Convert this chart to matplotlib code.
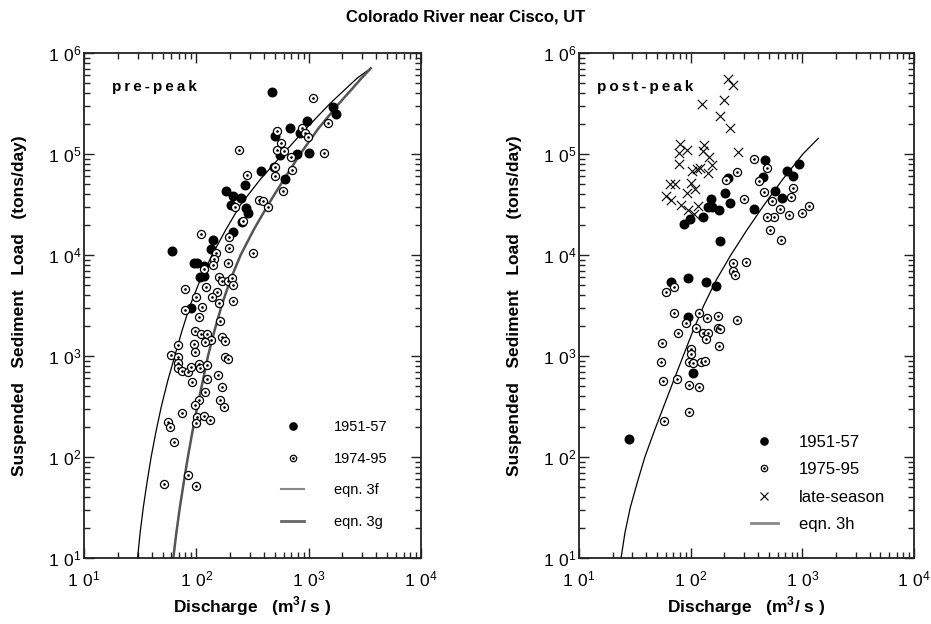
import numpy as np
import matplotlib
matplotlib.use("Agg")
import matplotlib.pyplot as plt
from matplotlib.lines import Line2D
from matplotlib.legend_handler import HandlerTuple
from matplotlib.ticker import LogLocator, FuncFormatter, NullFormatter

plt.rcParams['font.family'] = ['Liberation Sans', 'DejaVu Sans']
plt.rcParams['mathtext.fontset'] = 'custom'
plt.rcParams['mathtext.rm'] = 'Liberation Sans'
plt.rcParams['mathtext.bf'] = 'Liberation Sans:bold'

# ---- pre-peak data ----
pre_5157_q = [469, 1630, 1750, 960, 680, 500, 840, 790, 1010, 550, 380, 490, 610, 270, 183,
              211, 248, 204, 277, 291, 254, 210, 141, 61, 135, 96, 102, 118, 108, 116, 90]
pre_5157_l = [4.1e5, 2.9e5, 2.5e5, 2.1e5, 1.8e5, 1.5e5, 1.6e5, 9.9e4, 1.02e5, 9.8e4, 6.8e4, 7.5e4,
              5.7e4, 4.9e4, 4.3e4, 3.8e4, 3.7e4, 3.1e4, 2.9e4, 2.6e4, 2.1e4, 1.7e4, 1.4e4, 1.1e4,
              1.15e4, 8300, 8300, 7800, 6100, 6200, 3000]

pre_7495_q = [1087, 1500, 867, 929, 995, 520, 564, 520, 600, 692, 1371, 242, 506, 506, 711, 596,
              284, 364, 396, 435, 221, 261, 110, 194, 195, 322, 150, 145, 142, 193, 117, 158,
              168, 193, 207, 210, 122, 79, 154, 137, 158, 210, 99, 112, 106, 163, 80, 98, 110,
              124, 168, 180, 134, 120, 95, 69, 98, 60, 68, 68, 68, 75, 84, 89, 106, 108, 124,
              179, 193, 157, 125, 91, 169, 119, 163, 177, 106, 97, 75, 102, 118, 132, 99, 56,
              58, 63, 85, 52, 100]
pre_7495_l = [3.58e5, 2.01e5, 1.79e5, 1.6e5, 1.49e5, 1.7e5, 1.29e5, 1.1e5, 1.06e5, 9.4e4, 1.02e5,
              1.1e5, 6.05e4, 7.4e4, 6.95e4, 4.3e4, 6.15e4, 3.5e4, 3.45e4, 3.0e4, 3.0e4, 2.15e4,
              1.61e4, 1.52e4, 1.16e4, 1.05e4, 1.04e4, 9060, 7960, 8390, 7210, 6100, 5570, 5570,
              5870, 5010, 4860, 4570, 4340, 3810, 3320, 3530, 3870, 3080, 2460, 2220, 2850, 1750,
              1650, 1650, 1550, 1420, 1440, 1370, 1310, 1290, 1100, 1020, 985, 859, 755, 710, 694,
              784, 834, 755, 808, 985, 940, 644, 588, 552, 497, 437, 366, 315, 366, 324, 275, 251,
              254, 232, 219, 223, 200, 141, 66, 54, 52]

# rating curves, points
eqn3f_q = [30.0, 31.6, 33.7, 36.4, 39.6, 43.7, 48.8, 55.5, 64.3, 74.5, 87.9, 108, 138, 183,
           248, 372, 589, 944, 1549, 2692, 3570]
eqn3f_l = [10, 17.8, 31.6, 56.2, 100, 178, 316, 562, 1000, 1778, 3162, 5623, 10000, 17783,
           31623, 56234, 1.0e5, 1.78e5, 3.16e5, 5.62e5, 7.05e5]

eqn3g_q = [62.4, 66.4, 71.3, 77.3, 84.1, 92.3, 102, 114, 127, 145, 168, 200, 248, 324, 437,
           603, 841, 1216, 1862, 2951, 3570]
eqn3g_l = [10, 17.8, 31.6, 56.2, 100, 178, 316, 562, 1000, 1778, 3162, 5623, 10000, 17783,
           31623, 56234, 1.0e5, 1.78e5, 3.16e5, 5.62e5, 7.05e5]

# ---- post-peak data ----
post_5157_q = [459, 939, 723, 830, 441, 216, 565, 657, 204, 153, 223, 144, 155, 180, 371, 128,
               98, 88, 183, 66, 94, 138, 169, 94, 104, 28]
post_5157_l = [8.65e4, 7.96e4, 6.84e4, 6.05e4, 5.87e4, 5.83e4, 4.33e4, 3.67e4, 4.14e4, 3.56e4,
               3.3e4, 2.97e4, 3.01e4, 2.79e4, 2.83e4, 2.4e4, 2.29e4, 2.01e4, 1.37e4, 5360, 5920,
               5440, 4930, 2450, 673, 151]

post_7595_q = [366, 479, 262, 206, 409, 818, 450, 538, 785, 298, 1153, 627, 998, 758, 557, 482,
               513, 640, 238, 311, 238, 251, 71, 60, 71, 258, 91, 119, 140, 175, 112, 174, 184,
               128, 144, 77, 136, 55, 180, 100, 100, 54, 97, 106, 124, 134, 57, 75, 97, 118, 97,
               58]
post_7595_l = [8.91e4, 7.33e4, 6.69e4, 5.57e4, 5.45e4, 4.6e4, 4.21e4, 3.45e4, 3.78e4, 3.61e4,
               3.08e4, 2.88e4, 2.58e4, 2.47e4, 2.4e4, 2.38e4, 1.77e4, 1.41e4, 8400, 8530, 7000,
               6340, 4780, 4270, 2680, 2270, 2140, 2640, 2400, 2490, 1910, 1910, 1850, 1680, 1680,
               1680, 1460, 1360, 1270, 1180, 1040, 873, 873, 859, 880, 893, 570, 587, 513, 497,
               279, 229]

late_q = [217, 238, 127, 200, 184, 223, 265, 80, 92, 78.5, 79, 133, 130, 145, 155, 102, 113, 120,
          142, 65, 72, 60, 67, 100, 92, 110, 82, 95, 117, 108]
late_l = [5.49e5, 4.82e5, 3.1e5, 3.43e5, 2.4e5, 1.8e5, 1.04e5, 1.26e5, 1.1e5, 1.02e5, 7.96e4,
          1.22e5, 1.08e5, 9.42e4, 7.73e4, 6.84e4, 7.05e4, 7.21e4, 6.44e4, 5.05e4, 5.05e4, 3.87e4,
          3.51e4, 5.2e4, 4.14e4, 4.54e4, 3.13e4, 2.79e4, 3.08e4, 2.55e4]

eqn3h_q = [23.8, 25.8, 28.8, 33.3, 38.9, 47.0, 57.3, 70.0, 85.7, 105, 131, 169, 229, 320,
           457, 668, 1012, 1390]
eqn3h_l = [10, 17.8, 31.6, 56.2, 100, 178, 316, 562, 1000, 1778, 3162, 5623, 10000, 17783,
           31623, 56234, 1.0e5, 1.43e5]


def log_fmt(v, pos):
    return r'$\mathregular{1\ 0^{%d}}$' % int(round(np.log10(v)))


def style_axes(ax):
    ax.set_xscale('log')
    ax.set_yscale('log')
    ax.set_xlim(10, 1e4)
    ax.set_ylim(10, 1e6)
    ax.xaxis.set_major_locator(LogLocator(base=10, numticks=10))
    ax.yaxis.set_major_locator(LogLocator(base=10, numticks=10))
    ax.xaxis.set_minor_locator(LogLocator(base=10, subs=np.arange(2, 10), numticks=20))
    ax.yaxis.set_minor_locator(LogLocator(base=10, subs=np.arange(2, 10), numticks=20))
    ax.xaxis.set_major_formatter(FuncFormatter(log_fmt))
    ax.yaxis.set_major_formatter(FuncFormatter(log_fmt))
    ax.xaxis.set_minor_formatter(NullFormatter())
    ax.yaxis.set_minor_formatter(NullFormatter())
    ax.tick_params(which='both', direction='in', top=True, right=True, width=1.0, color='#222222')
    ax.tick_params(which='major', length=7, labelsize=12.5)
    ax.tick_params(which='minor', length=4)
    ax.tick_params(axis='x', which='major', pad=8)
    ax.tick_params(axis='y', which='major', pad=2)
    for s in ax.spines.values():
        s.set_linewidth(1.3)
        s.set_color('#222222')
    ax.set_xlabel(r'Discharge   (m$^\mathbf{3}$/ s )', fontsize=12.5, fontweight='bold')
    ax.set_ylabel('Suspended   Sediment   Load   (tons/day)', fontsize=12.5, fontweight='bold')
    ax.xaxis.set_label_coords(0.5, -0.072)


def open_dots(ax, q, l):
    ax.scatter(q, l, s=34, facecolor='white', edgecolor='black', linewidth=0.9, zorder=3)
    ax.scatter(q, l, s=0.8, color='black', zorder=4)


fig = plt.figure(figsize=(9.31, 6.24), dpi=100)
ax1 = fig.add_axes([84 / 931, 66 / 624, 337 / 931, 505 / 624])
ax2 = fig.add_axes([579 / 931, 66 / 624, 335 / 931, 505 / 624])

# left panel
ax1.plot(eqn3f_q, eqn3f_l, color='black', lw=0.9, zorder=2)
ax1.plot(eqn3g_q, eqn3g_l, color='#555555', lw=1.8, zorder=2)
ax1.scatter(pre_5157_q, pre_5157_l, s=38, color='black', zorder=3)
open_dots(ax1, pre_7495_q, pre_7495_l)
style_axes(ax1)
ax1.yaxis.set_label_coords(-0.169, 0.5)
ax1.text(0.082, 0.933, '\u2009'.join('pre-peak'), transform=ax1.transAxes,
         fontsize=11, fontweight='bold', va='center', ha='left')

open_h = (Line2D([], [], ls='none', marker='o', ms=4.6, mfc='white', mec='black', mew=0.9),
          Line2D([], [], ls='none', marker='o', ms=0.9, color='black'))
filled_h = Line2D([], [], ls='none', marker='o', ms=5.2, color='black')
tuple_map = {tuple: HandlerTuple(ndivide=1, pad=0)}

h1 = [filled_h, open_h,
      Line2D([], [], color='#888888', lw=1.5),
      Line2D([], [], color='#666666', lw=2.0)]
ax1.legend(h1, ['1951-57', '1974-95', 'eqn. 3f', 'eqn. 3g'], loc='upper left',
           bbox_to_anchor=(0.585, 0.273), frameon=False, fontsize=10.5, handlelength=1.6,
           handletextpad=2.0, labelspacing=1.2, borderpad=0, borderaxespad=0,
           handler_map=tuple_map)

# right panel
ax2.plot(eqn3h_q, eqn3h_l, color='black', lw=0.9, zorder=2)
ax2.scatter(late_q, late_l, s=45, marker='x', color='black', linewidth=0.8, zorder=3)
ax2.scatter(post_5157_q, post_5157_l, s=38, color='black', zorder=3)
open_dots(ax2, post_7595_q, post_7595_l)
style_axes(ax2)
ax2.yaxis.set_label_coords(-0.170, 0.5)
ax2.text(0.053, 0.933, '\u2009'.join('post-peak'), transform=ax2.transAxes,
         fontsize=11, fontweight='bold', va='center', ha='left')

h2 = [filled_h, open_h,
      Line2D([], [], ls='none', marker='x', ms=5.5, color='black', mew=0.8),
      Line2D([], [], color='#888888', lw=2.0)]
ax2.legend(h2, ['1951-57', '1975-95', 'late-season', 'eqn. 3h'], loc='upper left',
           bbox_to_anchor=(0.513, 0.244), frameon=False, fontsize=12, handlelength=1.6,
           handletextpad=1.3, labelspacing=0.75, borderpad=0, borderaxespad=0,
           handler_map=tuple_map)

fig.text(0.5, 1 - 17 / 624, 'Colorado River near Cisco, UT', ha='center', va='center',
         fontsize=12, fontweight='bold')

fig.savefig('out.png', dpi=100)
